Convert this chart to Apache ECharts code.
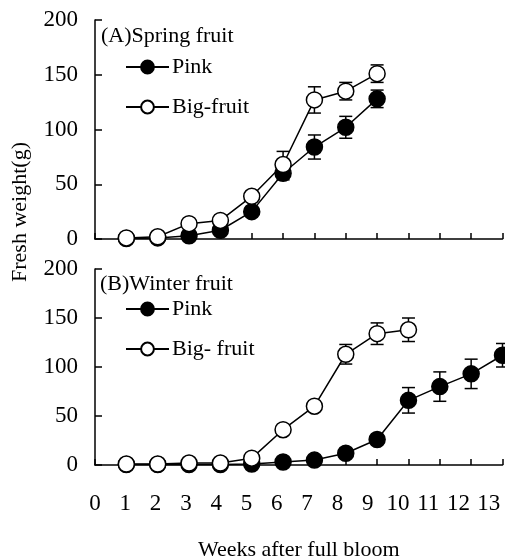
<!DOCTYPE html>
<html>
<head>
<meta charset="utf-8">
<script src="https://cdn.jsdelivr.net/npm/echarts@6/dist/echarts.min.js"></script>
<style>html,body{margin:0;padding:0;background:#fff;}#c{width:505px;height:560px;}</style>
</head>
<body>
<div id="c"></div>
<script>
// ---- data ----
var springWeeks = [1, 2, 3, 4, 5, 6, 7, 8, 9];
var springPink = [0.5, 1, 3, 8, 25, 60, 84, 102, 128];
var springPinkErr = [0, 0, 0, 2, 3, 6, 11, 10, 8];
var springBig = [1, 2, 14, 17, 39, 68, 127, 135, 151];
var springBigErr = [0, 0, 1, 1, 3, 12, 12, 8, 8];

var winterPinkWeeks = [1, 2, 3, 4, 5, 6, 7, 8, 9, 10, 11, 12, 13];
var winterPink = [0.5, 0.5, 0.5, 0.5, 1, 3, 5, 12, 26, 66, 80, 93, 112];
var winterPinkErr = [0, 0, 0, 0, 0, 0, 2, 3, 3, 13, 15, 15, 12];
var winterBigWeeks = [1, 2, 3, 4, 5, 6, 7, 8, 9, 10];
var winterBig = [1, 1, 2, 2, 7, 36, 60, 113, 134, 138];
var winterBigErr = [0, 0, 0, 0, 1, 2, 4, 10, 11, 12];

var xTicks = [0, 1, 2, 3, 4, 5, 6, 7, 8, 9, 10, 11, 12, 13];
var yTicks = [0, 50, 100, 150, 200];

var titleA = '(A)Spring fruit';
var titleB = '(B)Winter fruit';
var yTitle = 'Fresh weight(g)';
var xTitle = 'Weeks after full bloom';
// ---- end data ----

var FONT = '"Liberation Serif", "Times New Roman", serif';
var FS = 22;   // text
var FN = 23;   // numbers

function pts(xs, ys) { return xs.map(function (x, i) { return [x, ys[i]]; }); }
function errPts(xs, ys, es) {
  var out = [];
  xs.forEach(function (x, i) { if (es[i] > 0) out.push([x, ys[i], es[i]]); });
  return out;
}

function errSeries(idx, data) {
  return {
    type: 'custom', xAxisIndex: idx, yAxisIndex: idx, z: 1, silent: true,
    data: data,
    renderItem: function (params, api) {
      var x = api.value(0), y = api.value(1), e = api.value(2);
      var top = api.coord([x, y + e]);
      var bot = api.coord([x, y - e]);
      var hw = 6.5;
      var st = { stroke: '#000', lineWidth: 1.5 };
      return {
        type: 'group',
        children: [
          { type: 'line', shape: { x1: top[0], y1: top[1], x2: bot[0], y2: bot[1] }, style: st },
          { type: 'line', shape: { x1: top[0] - hw, y1: top[1], x2: top[0] + hw, y2: top[1] }, style: st },
          { type: 'line', shape: { x1: bot[0] - hw, y1: bot[1], x2: bot[0] + hw, y2: bot[1] }, style: st }
        ]
      };
    }
  };
}

function lineSeries(name, idx, data, fill, z) {
  return {
    name: name, type: 'line', xAxisIndex: idx, yAxisIndex: idx, z: z,
    data: data, symbol: 'circle', symbolSize: 16, showAllSymbols: true,
    lineStyle: { color: '#000', width: 1.5 },
    itemStyle: { color: fill, borderColor: '#000', borderWidth: 1.5 },
    emphasis: { disabled: true },
    animation: false
  };
}

function xAxis(idx) {
  return {
    type: 'value', gridIndex: idx, position: 'bottom', min: 0, max: 13, interval: 1,
    axisLine: { show: true, lineStyle: { color: '#000', width: 1.5 } },
    axisTick: { show: true, inside: true, length: 6, lineStyle: { color: '#000', width: 1.5 } },
    splitLine: { show: false },
    axisLabel: { show: false }
  };
}
// label-only axis for the bottom panel (reference labels are spaced slightly tighter than ticks)
function xLabelAxis(idx) {
  return {
    type: 'value', gridIndex: idx, position: 'bottom', min: 0, max: 13.45, interval: 1,
    axisLine: { show: false, onZero: false }, axisTick: { show: false }, splitLine: { show: false },
    axisLabel: {
      show: true, color: '#000', fontFamily: FONT, fontSize: FN, margin: 27,
      formatter: function (v) { return xTicks.indexOf(v) >= 0 ? String(v) : ''; }
    },
    name: xTitle, nameLocation: 'middle', nameGap: 74,
    nameTextStyle: { color: '#000', fontFamily: FONT, fontSize: FS }
  };
}
function yAxis(idx) {
  return {
    type: 'value', gridIndex: idx, min: 0, max: 200, interval: 50,
    axisLine: { show: true, lineStyle: { color: '#000', width: 1.5 } },
    axisTick: { show: true, inside: true, length: 7, lineStyle: { color: '#000', width: 1.5 } },
    splitLine: { show: false },
    axisLabel: {
      color: '#000', fontFamily: FONT, fontSize: FN, margin: 17,
      formatter: function (v) { return yTicks.indexOf(v) >= 0 ? String(v) : ''; }
    }
  };
}

function legend(top, names) {
  return {
    orient: 'vertical', left: 120, top: top, itemGap: 18, itemWidth: 43, itemHeight: 16,
    data: names, selectedMode: false,
    textStyle: { color: '#000', fontFamily: FONT, fontSize: FS, padding: [0, 0, 0, -2] }
  };
}

var chart = echarts.init(document.getElementById('c'), null, { renderer: 'canvas' });
chart.setOption({
  animation: false,
  backgroundColor: '#fff',
  grid: [
    { left: 95, top: 20, width: 407.5, height: 219, containLabel: false, outerBoundsMode: 'none' },
    { left: 95, top: 269, width: 407.5, height: 196, containLabel: false, outerBoundsMode: 'none' }
  ],
  xAxis: [xAxis(0), xAxis(1), xLabelAxis(1)],
  yAxis: [yAxis(0), yAxis(1)],
  title: [
    { text: titleA, left: 101, top: 25, padding: 0, textStyle: { color: '#000', fontFamily: FONT, fontSize: FS, fontWeight: 'normal' } },
    { text: titleB, left: 100, top: 273, padding: 0, textStyle: { color: '#000', fontFamily: FONT, fontSize: FS, fontWeight: 'normal' } }
  ],
  legend: [
    legend(51, ['Pink', 'Big-fruit']),
    legend(293, ['Pink', 'Big- fruit'])
  ],
  graphic: [{
    type: 'text', x: 20, y: 212, rotation: Math.PI / 2,
    style: { text: yTitle, fill: '#000', font: FS + 'px ' + FONT, textAlign: 'center', textVerticalAlign: 'middle' }
  }],
  series: [
    errSeries(0, errPts(springWeeks, springPink, springPinkErr)),
    errSeries(0, errPts(springWeeks, springBig, springBigErr)),
    lineSeries('Pink', 0, pts(springWeeks, springPink), '#000', 2),
    lineSeries('Big-fruit', 0, pts(springWeeks, springBig), '#fff', 3),
    errSeries(1, errPts(winterPinkWeeks, winterPink, winterPinkErr)),
    errSeries(1, errPts(winterBigWeeks, winterBig, winterBigErr)),
    lineSeries('Pink', 1, pts(winterPinkWeeks, winterPink), '#000', 2),
    lineSeries('Big- fruit', 1, pts(winterBigWeeks, winterBig), '#fff', 3)
  ]
});
</script>
</body>
</html>
